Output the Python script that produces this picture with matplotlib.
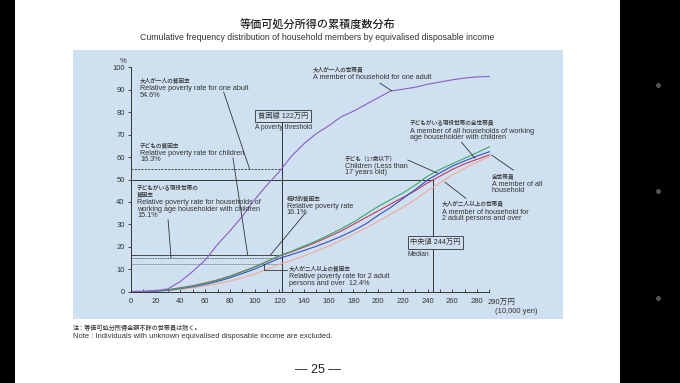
import matplotlib
matplotlib.use("Agg")
import matplotlib.pyplot as plt
from matplotlib.patches import Rectangle
from matplotlib.lines import Line2D
from matplotlib.ticker import FixedLocator

plt.rcParams['font.family'] = ['Liberation Sans', 'Noto Sans CJK JP', 'DejaVu Sans']

# 等価可処分所得（万円）
income = [0, 10, 20, 30, 40, 50, 60, 70, 80, 90, 100, 110, 120, 130, 140,
          150, 160, 170, 180, 190, 200, 210, 220, 230, 240, 250, 260, 270, 280, 290]

# 累積度数 (%)
one_adult = [0, 0, 0.3, 1.2, 4.5, 9, 14, 21, 27, 33.5, 41, 47.5, 53.5, 60.5, 66,
             70.5, 74, 78, 80.5, 83.5, 86.5, 89.5, 90.3, 91.2, 92.5, 93.5, 94.5, 95.3, 95.8, 96]
children = [0, 0, 0.2, 0.7, 1.5, 2.4, 3.6, 5, 6.7, 8.7, 10.9, 13.4, 16, 18, 20.3,
            22.6, 25.2, 28, 31, 34.5, 38, 41, 44, 47.5, 51.5, 54.5, 57, 59.5, 62, 64.6]
with_children = [0, 0, 0.2, 0.5, 1.3, 2.1, 3.2, 4.5, 6.1, 8, 10, 12.4, 14.8, 16.5, 18.3,
                 20.2, 22.3, 24.6, 27.2, 30.2, 34, 37.5, 41.5, 45.5, 49.8, 53, 56, 58.3, 60.5, 62.4]
all_members = [0, 0, 0.2, 0.8, 1.7, 2.6, 3.8, 5.2, 6.9, 8.9, 11, 13.4, 15.8, 17.7, 19.8,
               22, 24.5, 27, 30, 33, 36, 39, 42, 45, 48.5, 51.5, 54.5, 57, 59, 61]
two_adults = [0, 0, 0.1, 0.4, 1, 1.6, 2.5, 3.5, 4.7, 6.1, 7.8, 9.9, 12.1, 13.9, 15.9,
              18, 20.3, 22.8, 25.5, 28.3, 31.3, 34.4, 37.6, 41, 45, 48.5, 52, 55, 57.8, 60.2]

poverty_line = 122
median = 244
rate_one_adult = 54.6
rate_children = 16.3
rate_all = 16.1
rate_with_children = 15.1
rate_two_adults = 12.4

W, H = 680, 383
panel = '#cfe1f0'
ink = '#333333'

fig = plt.figure(figsize=(W / 100, H / 100), dpi=100, facecolor='black')

def fx(px):
    return px / W

def fy(py):
    return 1 - py / H

# ページ（白）と図の背景（水色）
fig.add_artist(Rectangle((fx(15), 0), fx(605), 1, transform=fig.transFigure,
                         facecolor='white', edgecolor='none', zorder=-3))
fig.add_artist(Rectangle((fx(73), fy(319)), fx(490), fy(50) - fy(319), transform=fig.transFigure,
                         facecolor=panel, edgecolor='none', zorder=-2))
for py in [85, 191, 298]:
    fig.add_artist(Line2D([fx(658)], [fy(py)], marker='o', markersize=2.5, color='#555555',
                          transform=fig.transFigure))

fig.text(fx(317.5), fy(25), '等価可処分所得の累積度数分布', ha='center', va='center',
         fontsize=8, fontweight='medium', color='#222222')
fig.text(fx(317.5), fy(37), 'Cumulative frequency distribution of household members by equivalised disposable income',
         ha='center', va='center', fontsize=6.3, color='#333333')
fig.text(fx(73), fy(328), '注：等価可処分所得金額不詳の世帯員は除く。', ha='left', va='center',
         fontsize=4.4, fontweight='medium', color='#333333')
fig.text(fx(73), fy(337), 'Note : Individuals with unknown equivalised disposable income are excluded.',
         ha='left', va='center', fontsize=5.4, color='#333333')
fig.text(fx(317.5), fy(370), '— 25 —', ha='center', va='center', fontsize=9, color='#222222')

ax = fig.add_axes([fx(131), fy(291.5), 426.4 / W, 224 / H])
ax.patch.set_alpha(0)
ax.set_xlim(0, 345)
ax.set_ylim(0, 100)
for s in ['top', 'right']:
    ax.spines[s].set_visible(False)
ax.spines['bottom'].set_bounds(0, 290)
ax.spines['left'].set_bounds(0, 100)
for s in ['bottom', 'left']:
    ax.spines[s].set_color(ink)
    ax.spines[s].set_linewidth(0.7)

ax.set_yticks(range(0, 101, 10))
ax.set_xticks(range(0, 281, 20))
ax.xaxis.set_minor_locator(FixedLocator(range(10, 291, 20)))
ax.tick_params(axis='y', direction='out', length=2.5, width=0.6, labelsize=5.5, pad=2,
               colors=ink)
ax.tick_params(axis='x', which='both', direction='in', length=2.5, width=0.6, labelsize=5.5,
               pad=5, colors=ink)
ax.text(-4, 102.5, '%', ha='right', va='center', fontsize=5.5, color=ink, clip_on=False)
ax.text(288.5, -5.5, '290万円', ha='left', va='center', fontsize=5.5, color=ink, clip_on=False)
ax.text(329, -9, '(10,000 yen)', ha='right', va='center', fontsize=5.5, color=ink, clip_on=False)

# 貧困率の水平線
ax.plot([0, poverty_line], [rate_one_adult] * 2, color=ink, lw=0.6, ls=(0, (2.5, 1.5)))
ax.plot([0, poverty_line], [rate_children] * 2, color=ink, lw=0.6, ls=(0, (2, 1.5)))
ax.plot([0, poverty_line], [rate_all] * 2, color=ink, lw=0.5)
ax.plot([0, poverty_line], [rate_with_children] * 2, color=ink, lw=0.6, ls=(0, (1, 1)))
ax.plot([0, poverty_line], [rate_two_adults] * 2, color='#8a8f98', lw=0.5)

# 中央値・貧困線
ax.plot([0, median], [50, 50], color=ink, lw=0.7)
ax.plot([median, median], [0, 50], color=ink, lw=0.7)
ax.plot([poverty_line, poverty_line], [0, 77.5], color=ink, lw=0.7)

# 曲線
ax.plot(income, two_adults, color='#f2a89a', lw=0.8)
ax.plot(income, all_members, color='#c83a5c', lw=0.8)
ax.plot(income, with_children, color='#3a4fc4', lw=0.8)
ax.plot(income, children, color='#3aa867', lw=0.8)
ax.plot(income, one_adult, color='#8b5cc6', lw=0.8)

box = dict(boxstyle='square,pad=0.35', facecolor=panel, edgecolor=ink, lw=0.6)
ax.text(123, 78.3, '貧困線 122万円', ha='center', va='center', fontsize=5.2, color=ink, bbox=box)
ax.text(123, 73, 'A poverty threshold', ha='center', va='center', fontsize=4.8, color=ink)
ax.text(246.4, 21.9, '中央値 244万円', ha='center', va='center', fontsize=5.2, color=ink, bbox=box)
ax.text(224, 16.7, 'Median', ha='left', va='center', fontsize=4.8, color=ink)


def is_jp(s):
    return any(ord(c) > 0x2E80 for c in s)


def note(x, y, lines):
    off = 0
    for i, line in enumerate(lines):
        jp = is_jp(line)
        ax.annotate(line, (x, y), xytext=(0, -off), textcoords='offset points',
                    fontsize=4.1 if jp else 5.2, fontweight='medium' if jp else 'normal',
                    va='baseline', ha='left', color=ink, annotation_clip=False)
        if i + 1 < len(lines):
            off += 5.4 if jp != is_jp(lines[i + 1]) else 4.6


notes = [
    (7.3, 93.1, ['大人が一人の貧困率', 'Relative poverty rate for one abult', '54.6%']),
    (7.3, 64.5, ['子どもの貧困率', 'Relative poverty rate for children', '16.3%']),
    (4.9, 45.2, ['子どもがいる現役世帯の', '貧困率', 'Relative poverty rate for households of',
                 'working age householder with children', '15.1%']),
    (126, 40.7, ['相対的貧困率', 'Relative poverty rate', '16.1%']),
    (127.8, 9.2, ['大人が二人以上の貧困率', 'Relative poverty rate for 2 adult',
                  'persons and over  12.4%']),
    (147, 98, ['大人が一人の世帯員', 'A member of household for one adult']),
    (225.7, 74.2, ['子どもがいる現役世帯の全世帯員', 'A member of all households of working',
                   'age householder with children']),
    (173, 58.6, ['子ども（17歳以下）', 'Children (Less than', '17 years old)']),
    (292, 50.4, ['全世帯員', 'A member of all', 'household']),
    (251.4, 38, ['大人が二人以上の世帯員', 'A member of household for', '2 adult persons and over']),
]
for x, y, lines in notes:
    note(x, y, lines)

leaders = [
    ([75, 96], [89, rate_one_adult]),
    ([82.5, 94.4], [59.6, rate_children]),
    ([30, 32.4], [32, rate_with_children]),
    ([141, 113], [35, 16.4]),
    ([126, 107.8, 107.8], [9.6, 9.6, rate_two_adults]),
    ([201.5, 210.9], [93, 89.6]),
    ([267.5, 278.3], [66.6, 59.5]),
    ([224, 248], [58.7, 52.8]),
    ([291.8, 309.3], [60.9, 54.2]),
    ([254, 271], [48.8, 41.6]),
]
for xs, ys in leaders:
    ax.plot(xs, ys, color=ink, lw=0.6, clip_on=False)

fig.savefig('out.png', dpi=100, facecolor='black')
